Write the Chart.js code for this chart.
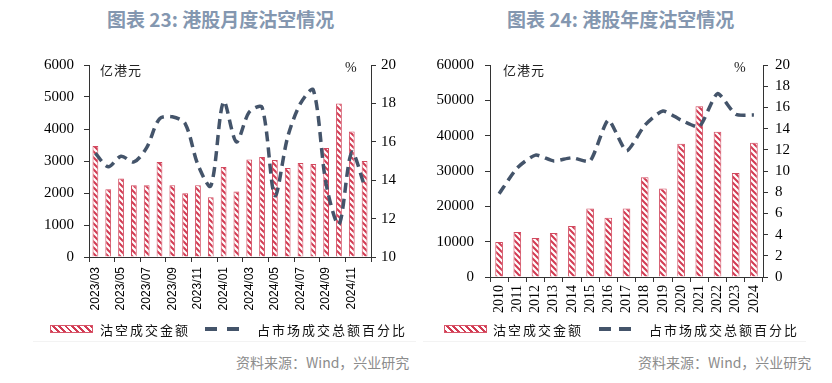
<!DOCTYPE html>
<html>
<head>
<meta charset="utf-8">
<title>港股沽空情况</title>
<script src="https://cdn.jsdelivr.net/npm/chart.js"></script>
<style>
  body { margin: 0; width: 832px; height: 383px; background: #fff; position: relative; overflow: hidden; font-family: "Noto Sans CJK SC", sans-serif; }
  .abs { position: absolute; }
  .title { top: 5px; font-size: 19px; font-weight: bold; color: #8497b0; white-space: nowrap; }
  .unit { font-size: 13px; color: #222; letter-spacing: 1px; white-space: nowrap; }
  .pct { font-size: 14px; color: #222; font-family: "Liberation Serif", serif; }
  .leg { font-size: 13px; color: #111; letter-spacing: 2px; white-space: nowrap; top: 320px; }
  .hatch { height: 6px; border: 1px solid #d8566a; background: repeating-linear-gradient(45deg, #d23a52 0 2px, #fff 2px 4.5px); top: 325px; }
  .dash { height: 3.5px; background: #44546a; top: 327px; }
  .src { top: 352px; font-size: 14px; color: #8c8c8c; white-space: nowrap; }
  .sep { top: 341px; height: 1px; background: #f3f3f3; }
</style>
</head>
<body>
<div class="abs title" style="left:107px;">图表 23: 港股月度沽空情况</div>
<div class="abs title" style="left:507px;">图表 24: 港股年度沽空情况</div>

<div class="abs" style="left:0;top:40px;width:416px;height:285px;"><canvas id="month-chart" width="416" height="285"></canvas></div>
<div class="abs" style="left:416px;top:40px;width:416px;height:285px;"><canvas id="year-chart" width="416" height="285"></canvas></div>

<div class="abs unit" style="left:100px;top:60px;">亿港元</div>
<div class="abs pct" style="left:345px;top:60px;">%</div>
<div class="abs unit" style="left:503px;top:60px;">亿港元</div>
<div class="abs pct" style="left:734px;top:60px;">%</div>

<div class="abs hatch" style="left:50px;width:41px;"></div>
<div class="abs leg" style="left:100px;">沽空成交金额</div>
<div class="abs dash" style="left:205px;width:12px;"></div>
<div class="abs dash" style="left:227px;width:12px;"></div>
<div class="abs leg" style="left:257px;">占市场成交总额百分比</div>

<div class="abs hatch" style="left:444px;width:41px;"></div>
<div class="abs leg" style="left:493px;">沽空成交金额</div>
<div class="abs dash" style="left:599px;width:12px;"></div>
<div class="abs dash" style="left:619px;width:12px;"></div>
<div class="abs leg" style="left:649px;">占市场成交总额百分比</div>

<div class="abs sep" style="left:33px;width:383px;"></div>
<div class="abs sep" style="left:423px;width:383px;"></div>
<div class="abs src" style="left:236px;">资料来源：Wind，兴业研究</div>
<div class="abs src" style="left:638px;">资料来源：Wind，兴业研究</div>

<script>
  // monthly short selling (HK$ 100m) and share of market turnover (%)
  var monthLabels = ['2023/03', '2023/04', '2023/05', '2023/06', '2023/07', '2023/08', '2023/09', '2023/10', '2023/11', '2023/12',
    '2024/01', '2024/02', '2024/03', '2024/04', '2024/05', '2024/06', '2024/07', '2024/08', '2024/09', '2024/10', '2024/11', '2024/12'];
  var monthShort = [3470, 2115, 2450, 2240, 2240, 2970, 2240, 1990, 2240, 1865,
    2810, 2050, 3050, 3125, 3030, 2780, 2940, 2905, 3405, 4795, 3920, 3000];
  var monthRatio = [15.4, 14.7, 15.25, 14.95, 15.7, 17.2, 17.3, 16.95, 14.8, 13.7,
    18.1, 16.0, 17.55, 17.8, 13.2, 16.25, 18.0, 18.7, 13.8, 11.7, 15.45, 13.7];

  // yearly
  var yearLabels = ['2010', '2011', '2012', '2013', '2014', '2015', '2016', '2017', '2018', '2019', '2020', '2021', '2022', '2023', '2024'];
  var yearShort = [9900, 12750, 11050, 12450, 14450, 19400, 16750, 19400, 28200, 25050, 37700, 48300, 41100, 29400, 38000];
  var yearRatio = [7.85, 10.3, 11.5, 10.95, 11.25, 10.95, 14.8, 11.9, 14.3, 15.66, 14.8, 14.2, 17.3, 15.35, 15.28];

  var axisColor = '#333';
  var lineColor = '#44546a';

  function makeHatch(ctx) {
    var c = document.createElement('canvas');
    c.width = 6;
    c.height = 6;
    var g = c.getContext('2d');
    g.fillStyle = '#fff';
    g.fillRect(0, 0, 6, 6);
    g.strokeStyle = '#d23a52';
    g.lineWidth = 2;
    g.beginPath();
    g.moveTo(-3, -3); g.lineTo(9, 9);
    g.moveTo(-3, 3); g.lineTo(3, 9);
    g.moveTo(3, -3); g.lineTo(9, 3);
    g.stroke();
    return ctx.createPattern(c, 'repeat');
  }

  function plain(v) { return String(v); }

  function buildChart(id, opt) {
    var canvas = document.getElementById(id);
    var ctx = canvas.getContext('2d');
    return new Chart(ctx, {
      data: {
        labels: opt.labels,
        datasets: [
          {
            type: 'line',
            label: '占市场成交总额百分比',
            data: opt.ratio,
            yAxisID: 'y1',
            borderColor: lineColor,
            borderWidth: 3.5,
            borderDash: [10, 6],
            tension: opt.tension,
            pointRadius: 0,
            fill: false,
            order: 0,
          },
          {
            type: 'bar',
            label: '沽空成交金额',
            data: opt.short,
            yAxisID: 'y',
            backgroundColor: makeHatch(ctx),
            borderColor: '#d24a5f',
            borderWidth: 1,
            categoryPercentage: 1,
            barPercentage: opt.barPct,
            order: 1,
          },
        ],
      },
      options: {
        responsive: false,
        animation: false,
        layout: { padding: { left: 0, right: 0, top: 25, bottom: 0 } },
        plugins: { legend: { display: false }, tooltip: { enabled: false } },
        scales: {
          x: {
            offset: true,
            grid: {
              offset: true,
              drawOnChartArea: false,
              tickLength: 5,
              color: function (c) { return (opt.every2 && c.index % 2 === 1) ? 'rgba(0,0,0,0)' : axisColor; },
            },
            border: { color: axisColor },
            afterFit: function (s) { s.height = opt.xHeight; },
            ticks: {
              autoSkip: false,
              minRotation: 90,
              maxRotation: 90,
              padding: opt.xPad,
              color: '#000',
              font: opt.xFont,
              callback: function (v, i) { return (opt.every2 && i % 2 === 1) ? '' : opt.labels[i]; },
            },
          },
          y: {
            position: 'left',
            min: 0,
            max: opt.yMax,
            grid: { drawOnChartArea: false, tickLength: 5, color: axisColor },
            border: { color: axisColor },
            afterFit: function (s) { s.width = opt.leftW; },
            ticks: { stepSize: opt.yStep, padding: opt.leftPad, color: '#000', callback: plain, font: { family: 'Liberation Serif', size: 15 } },
          },
          y1: {
            position: 'right',
            min: opt.rMin,
            max: 20,
            grid: { drawOnChartArea: false, tickLength: 5, color: axisColor },
            border: { color: axisColor },
            afterFit: function (s) { s.width = opt.rightW; },
            ticks: { stepSize: opt.rStep, padding: opt.rightPad, color: '#000', callback: plain, font: { family: 'Liberation Serif', size: 15 } },
          },
        },
      },
    });
  }

  var monthChart = buildChart('month-chart', {
    labels: monthLabels, short: monthShort, ratio: monthRatio,
    tension: 0.3, barPct: 0.45, every2: true,
    xHeight: 68, xPad: 5, xFont: { family: 'Liberation Sans', size: 12 },
    yMax: 6000, yStep: 1000, leftW: 89, leftPad: 10,
    rMin: 10, rStep: 1, rightW: 45, rightPad: 5,
  });

  var yearChart = buildChart('year-chart', {
    labels: yearLabels, short: yearShort, ratio: yearRatio,
    tension: 0.2, barPct: 0.42, every2: false,
    xHeight: 48, xPad: 3, xFont: { family: 'Liberation Serif', size: 14 },
    yMax: 60000, yStep: 10000, leftW: 74, leftPad: 11,
    rMin: 0, rStep: 2, rightW: 69, rightPad: 7,
  });
</script>
</body>
</html>
